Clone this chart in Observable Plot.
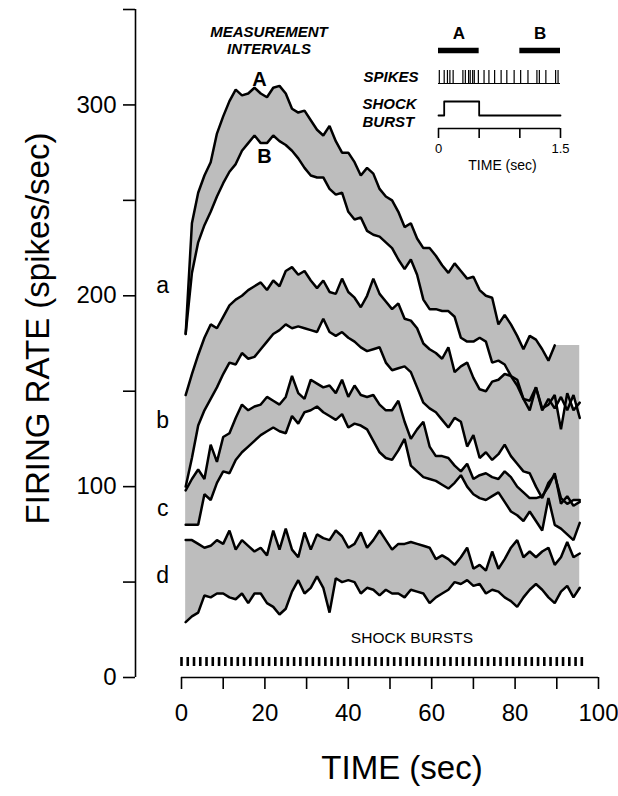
<!DOCTYPE html>
<html><head><meta charset="utf-8">
<script src="https://cdn.jsdelivr.net/npm/d3@7"></script>
<script src="https://cdn.jsdelivr.net/npm/@observablehq/plot@0.6"></script>
<style>
html,body{margin:0;padding:0;background:#fff;}
#chart{position:relative;width:618px;height:796px;overflow:hidden;background:#fff;}
#chart > svg{position:absolute;}
</style></head><body><div id="chart"></div>
<script>
// ---- main chart data: one measurement per shock burst (sec) ----
const times = [1,2.5,4,5.5,7,8.5,10,11.5,13,14.5,16,17.5,19,20.5,22,23.5,25,26.5,28,29.5,31,32.5,34,35.5,37,38.5,40,41.5,43,44.5,46,47.5,49,50.5,52,53.5,55,56.5,58,59.5,61,62.5,64,65.5,67,68.5,70,71.5,73,74.5,76,77.5,79,80.5,82,83.5,85,86.5,88,89.5,91,92.5,94,95.5];
// interval A (upper) and interval B (lower) firing rates, spikes/sec
const aUpper = [180,238,254,263,270,285,294,302,308,305, 306,309,306,304,309,310,306,298,296,297, 292,287,284,289,281,275,275,270,263,267, 264,256,252,250,244,236,238,230,225,225, 221,216,212,217,213,209,210,203,200,199, 185,190,185,179,172,179,177,172,166,174, 174,174,174,174];
const aLower = [180,212,228,237,244,252,259,265,269,276, 280,284,280,280,284,281,279,276,272,267, 263,262,262,256,253,254,244,240,241,234, 232,231,228,225,219,214,219,211,198,193, 193,192,192,189,178,176,176,178,176,165, 166,164,158,156,146,140,152,140,146,141, 147,140,148,136];
const bUpper = [148,159,169,178,185,183,189,195,198,200, 203,205,207,203,208,205,213,215,211,213, 208,204,208,202,201,209,202,199,194,200, 209,201,197,193,196,188,187,183,175,172, 170,167,173,160,163,165,157,151,150,155, 156,159,158,153,146,145,152,141,143,148, 130,149,140,144];
const bLower = [100,115,132,140,146,152,159,165,164,170, 167,168,172,176,180,182,185,183,184,183, 182,181,188,181,179,181,178,176,173,171, 172,173,165,161,162,163,160,152,144,141, 139,135,131,136,134,121,127,115,118,114, 117,122,116,112,108,107,100,94,102,106, 94,91,93,93];
const cUpper = [98,104,109,104,122,113,126,128,136,143, 140,142,143,147,145,143,147,158,149,146, 156,154,152,153,149,156,147,153,148,147, 148,143,140,140,145,134,125,130,134,121, 116,116,115,111,108,112,104,106,107,105, 104,108,105,100,97,94,94,95,100,107, 91,95,90,92];
const cLower = [80,80,80,96,93,102,108,107,114,118, 121,124,127,129,131,129,128,137,133,139, 140,142,139,137,135,138,131,133,132,130, 124,118,115,114,119,125,111,108,105,104, 103,101,99,102,106,100,96,94,93,95, 97,92,87,85,82,87,82,77,94,80, 78,75,72,81];
const dUpper = [72,72,70,68,69,72,70,77,67,72, 69,66,68,64,77,67,78,67,63,76, 67,75,73,72,77,74,68,70,76,68, 72,77,72,67,70,70,71,70,69,68, 62,64,62,59,63,68,57,59,56,66, 57,62,68,72,63,66,63,66,68,59, 63,71,63,65];
const dLower = [29,32,34,43,42,44,44,42,41,44, 39,44,44,39,37,33,36,45,51,44, 47,53,47,34,52,50,51,50,44,47, 46,43,46,44,44,42,46,45,44,39, 42,44,46,50,49,51,48,49,44,46, 45,42,40,37,42,46,49,46,42,39, 45,48,42,47];
const bandNames = ["a","b","c","d"];
const shockBursts = [0,1.5,3,4.5,6,7.5,9,10.5,12,13.5,15,16.5,18,19.5,21,22.5,24,25.5,27,28.5,30,31.5,33,34.5,36,37.5,39,40.5,42,43.5,45,46.5,48,49.5,51,52.5,54,55.5,57,58.5,60,61.5,63,64.5,66,67.5,69,70.5,72,73.5,75,76.5,78,79.5,81,82.5,84,85.5,87,88.5,90,91.5,93,94.5,96];
const xTicks = [0,10,20,30,40,50,60,70,80,90,100];
const xTickLabels = [0,20,40,60,80,100];
const yTicks = [0,50,100,150,200,250,300,350];
const yTickLabels = [0,100,200,300];

// ---- inset data (one shock burst cycle, sec) ----
const intervalNames = ["A","B"];
const intervalStart = [0, 1.0];
const intervalEnd = [0.5, 1.5];
const spikeTimes = [0.01,0.07,0.11,0.14,0.18,0.30,0.33,0.37,0.39,0.42,0.44,0.49,0.56,0.62,0.69,0.77,0.84,0.93,1.01,1.10,1.21,1.24,1.32,1.44,1.47];
const shockTraceTime = [0, 0.07, 0.5, 1.5];
const shockTraceLevel = [0, 1, 0, 0];
const insetTicks = [0, 0.5, 1, 1.5];
const insetTickLabels = [0, 1.5];

// ---- build tables ----
const uppers = [aUpper, bUpper, cUpper, dUpper];
const lowers = [aLower, bLower, cLower, dLower];
const rows = [];
bandNames.forEach((band, k) => times.forEach((t, i) => rows.push({band, t, upper: uppers[k][i], lower: lowers[k][i]})));
const intervals = intervalNames.map((name, i) => ({name, start: intervalStart[i], end: intervalEnd[i]}));
const shockTrace = shockTraceTime.map((t, i) => ({t, level: shockTraceLevel[i]}));

const FONT = "'Liberation Sans', Arial, Helvetica, sans-serif";
const FILL = "#bdbdbd";
const LW = 2.5;
const bandLabelDy = [-48, -20, 1, -5];

const chart = document.getElementById("chart");
function place(svg, left, top) { svg.style.left = left + "px"; svg.style.top = top + "px"; chart.appendChild(svg); }

const main = Plot.plot({
  width: 618, height: 796,
  marginTop: 9, marginBottom: 119, marginLeft: 181, marginRight: 20,
  x: {domain: [0, 100], label: null},
  y: {domain: [0, 350], label: null},
  style: {fontFamily: FONT, fontSize: "24px", color: "black", background: "transparent", overflow: "visible"},
  marks: [
    Plot.areaY(rows, {x: "t", y1: "lower", y2: "upper", z: "band", fill: FILL}),
    Plot.line(rows, {x: "t", y: "upper", z: "band", stroke: "black", strokeWidth: LW, strokeLinejoin: "miter", filter: d => !(d.band === "a" && d.t > 89.5)}),
    Plot.line(rows, {x: "t", y: "lower", z: "band", stroke: "black", strokeWidth: LW, strokeLinejoin: "miter"}),
    Plot.ruleX([0], {dx: -46, stroke: "black", strokeWidth: 1.6}),
    Plot.axisY({ticks: yTicks, tickSize: 12, tickPadding: 7, dx: -46, strokeWidth: 1.6, fontSize: 24, label: null,
      tickFormat: d => yTickLabels.includes(d) ? String(d) : ""}),
    Plot.ruleY([0], {stroke: "black", strokeWidth: 1.6}),
    Plot.axisX({ticks: xTicks, tickSize: 12, tickPadding: 14, strokeWidth: 1.6, fontSize: 24, label: null,
      tickFormat: d => xTickLabels.includes(d) ? String(d) : ""}),
    Plot.text(["FIRING RATE (spikes/sec)"], {text: d => d, frameAnchor: "left", textAnchor: "middle", rotate: -90, dx: -143, dy: -15, fontSize: 33}),
    Plot.text(["TIME (sec)"], {text: d => d, frameAnchor: "bottom", dx: 12, dy: 101, fontSize: 33}),
    Plot.text(["SHOCK BURSTS"], {text: d => d, frameAnchor: "bottom", dx: 22, dy: -35, fontSize: 15.5}),
    Plot.text(["MEASUREMENT\nINTERVALS"], {text: d => d, frameAnchor: "top", dx: -121, dy: 16, fontSize: 15, fontStyle: "italic", fontWeight: "bold", lineHeight: 1.1}),
    Plot.text(rows.filter(d => d.band === "a"), Plot.selectMaxY({x: "t", y: "upper", text: () => "A", dx: -20, dy: -6, fontSize: 20, fontWeight: "bold"})),
    Plot.text(rows.filter(d => d.band === "a"), Plot.selectMaxY({x: "t", y: "lower", text: () => "B", dx: 10, dy: 21, fontSize: 20, fontWeight: "bold"})),
    ...bandNames.map((name, k) => Plot.text(rows.filter(d => d.band === name),
      Plot.selectFirst({x: "t", y: d => (d.upper + d.lower) / 2, text: () => name, dx: -23, dy: bandLabelDy[k], fontSize: 23})))
  ]
});
place(main, 0, 0);

// shock burst strip, same x scale as main chart
const strip = Plot.plot({
  width: 618, height: 9, marginTop: 0, marginBottom: 0, marginLeft: 181, marginRight: 20,
  x: {domain: [0, 100], axis: null},
  style: {background: "transparent", overflow: "visible"},
  marks: [Plot.tickX(shockBursts, {x: d => d, stroke: "black", strokeWidth: 2.6, strokeLinecap: "butt"})]
});
place(strip, 0, 657);

// ---- inset: stacked rows sharing a 0–1.5 s x scale ----
const insetBase = {width: 240, marginLeft: 108, marginRight: 10};
const insetX = {domain: [0, 1.5], axis: null};
const insetStyle = {fontFamily: FONT, color: "black", background: "transparent", overflow: "visible"};

const rowIntervals = Plot.plot({
  ...insetBase, height: 36, marginTop: 24, marginBottom: 6, x: insetX, y: {domain: [0, 1], axis: null}, style: insetStyle,
  marks: [
    Plot.ruleY(intervals, {x1: "start", x2: "end", y: () => 0, stroke: "black", strokeWidth: 5.5, strokeLinecap: "butt"}),
    Plot.text(intervals, {x: d => (d.start + d.end) / 2, text: "name", frameAnchor: "top", dy: -18, fontSize: 17, fontWeight: "bold"})
  ]
});
place(rowIntervals, 330, 20);

const rowSpikes = Plot.plot({
  ...insetBase, height: 13, marginTop: 0, marginBottom: 0, x: insetX, y: {domain: [0, 1], axis: null}, style: insetStyle,
  marks: [
    Plot.tickX(spikeTimes, {x: d => d, stroke: "black", strokeWidth: 1.2}),
    Plot.ruleY([0], {stroke: "black", strokeWidth: 1.2}),
    Plot.text(["SPIKES"], {text: d => d, frameAnchor: "left", textAnchor: "end", dx: -20, fontSize: 15, fontStyle: "italic", fontWeight: "bold"})
  ]
});
place(rowSpikes, 330, 70);

const rowShock = Plot.plot({
  ...insetBase, height: 20, marginTop: 3, marginBottom: 3, x: insetX, y: {domain: [0, 1], axis: null}, style: insetStyle,
  marks: [
    Plot.line(shockTrace, {x: "t", y: "level", curve: "step-after", stroke: "black", strokeWidth: 1.8}),
    Plot.text(["SHOCK\nBURST"], {text: d => d, frameAnchor: "left", textAnchor: "start", dx: -76, dy: 4, lineHeight: 1.17, fontSize: 15, fontStyle: "italic", fontWeight: "bold"})
  ]
});
place(rowShock, 330, 98);

const rowAxis = Plot.plot({
  ...insetBase, height: 60, marginTop: 0, marginBottom: 50, x: {domain: [0, 1.5]}, y: {domain: [0, 1], axis: null}, style: insetStyle,
  marks: [
    Plot.ruleY([0], {stroke: "black", strokeWidth: 1.6}),
    Plot.axisX({ticks: insetTicks, tickSize: 10, tickPadding: 5, strokeWidth: 1.6, fontSize: 13, label: null,
      tickFormat: d => insetTickLabels.includes(d) ? String(d) : ""}),
    Plot.text(["TIME (sec)"], {text: d => d, frameAnchor: "bottom", dx: 3, dy: 41, fontSize: 14})
  ]
});
place(rowAxis, 330, 118);
</script></body></html>
